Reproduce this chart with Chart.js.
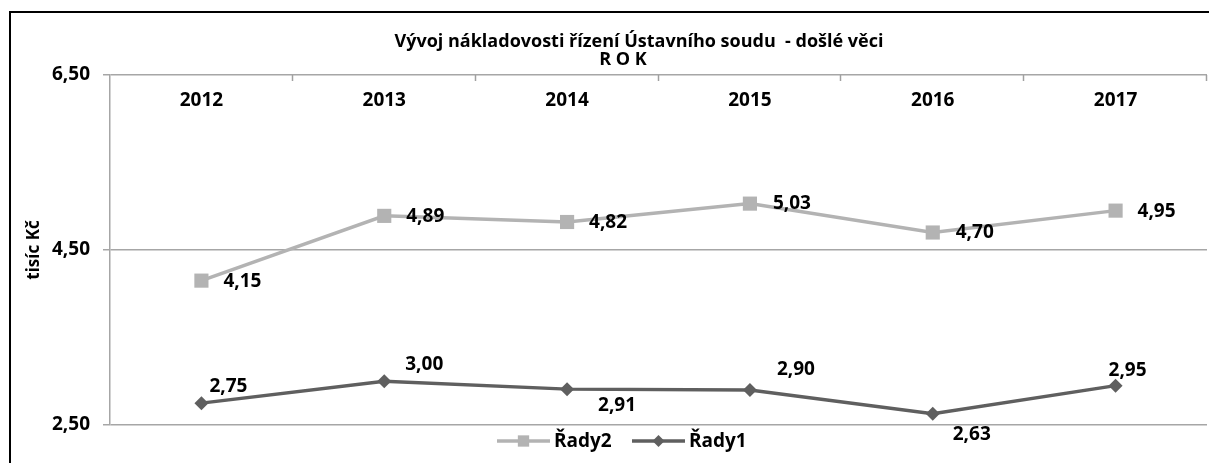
<!DOCTYPE html>
<html>
<head>
<meta charset="utf-8">
<script src="https://cdn.jsdelivr.net/npm/chart.js@4/dist/chart.umd.min.js"></script>
<style>
  body { margin: 0; background: #fff; overflow: hidden; }
  #wrap { position: absolute; left: 0; top: 0; width: 1209px; height: 463px; }
  #frame { position: absolute; left: 9px; top: 11px; width: 1300px; height: 500px;
           border-left: 2px solid #000; border-top: 2px solid #000; pointer-events: none; }
</style>
</head>
<body>
<div id="wrap">
  <canvas id="chart" width="1209" height="463"></canvas>
  <div id="frame"></div>
</div>
<script>
// data
const years = ['2012', '2013', '2014', '2015', '2016', '2017'];
const rady1 = [2.75, 3.00, 2.91, 2.90, 2.63, 2.95];
const rady2 = [4.15, 4.89, 4.82, 5.03, 4.70, 4.95];
const yMin = 2.5, yMax = 6.5, yStep = 2;

const titleLines = ['Vývoj nákladovosti řízení Ústavního soudu  - došlé věci', 'R O K'];
const yTitle = 'tisíc Kč';

// where each value label sits relative to its point
const rady1Offsets = [[27, -17], [40, -17], [50, 16], [46, -20], [39, 21], [12, -15]];
const rady2Offsets = [[41, 1], [41, 1], [41, 1], [42, 0], [42, 0], [41, 1]];

const dark = '#5f5f5f';
const light = '#b3b3b3';
const fontFam = '"Open Sans", sans-serif';
Chart.defaults.font.family = fontFam;
Chart.defaults.color = '#000';

const fmt = v => v.toFixed(2).replace('.', ',');

const extras = {
    id: 'extras',
    afterDraw(chart) {
        const ctx = chart.ctx;
        const xs = chart.scales.x;
        const area = chart.chartArea;
        ctx.save();
        ctx.fillStyle = '#000';
        ctx.textBaseline = 'middle';
        ctx.textAlign = 'center';

        // title
        ctx.font = 'bold 18px ' + fontFam;
        ctx.fillText(titleLines[0], 639, 42);
        ctx.fillText(titleLines[1], 623, 60);

        // category labels under the top edge + small ticks
        ctx.font = 'bold 19px ' + fontFam;
        years.forEach((y, i) => ctx.fillText(y, xs.getPixelForValue(i), area.top + 26));
        const w = (xs.right - xs.left) / years.length;
        ctx.strokeStyle = '#a0a0a0';
        ctx.lineWidth = 1.5;
        for (let k = 1; k <= years.length; k++) {
            const x = Math.round(xs.left + k * w) - 0.5;
            ctx.beginPath();
            ctx.moveTo(x, area.top);
            ctx.lineTo(x, area.top + 6);
            ctx.stroke();
        }

        // y title
        ctx.save();
        ctx.translate(34, (area.top + area.bottom) / 2);
        ctx.rotate(-Math.PI / 2);
        ctx.font = 'bold 17px ' + fontFam;
        ctx.fillText(yTitle, 0, 0);
        ctx.restore();

        // value labels
        ctx.font = 'bold 19px ' + fontFam;
        const sets = [[0, rady1, rady1Offsets], [1, rady2, rady2Offsets]];
        sets.forEach(([di, vals, offs]) => {
            const meta = chart.getDatasetMeta(di);
            meta.data.forEach((pt, i) => {
                ctx.fillText(fmt(vals[i]), pt.x + offs[i][0], pt.y + offs[i][1]);
            });
        });

        // legend
        const ly = 441;
        const items = [
            { label: 'Řady2', color: light, style: 'rect', x0: 497, x1: 550, r: 8 },
            { label: 'Řady1', color: dark, style: 'rectRot', x0: 632, x1: 685, r: 6 }
        ];
        items.forEach(it => {
            ctx.strokeStyle = it.color;
            ctx.lineWidth = 3.5;
            ctx.beginPath();
            ctx.moveTo(it.x0, ly);
            ctx.lineTo(it.x1, ly);
            ctx.stroke();
            ctx.fillStyle = it.color;
            Chart.helpers.drawPoint(ctx, { pointStyle: it.style, radius: it.r, borderWidth: 0 }, (it.x0 + it.x1) / 2, ly);
            ctx.fillStyle = '#000';
            ctx.textAlign = 'left';
            ctx.fillText(it.label, it.x1 + 4, ly + 1);
        });
        ctx.restore();
    }
};

new Chart(document.getElementById('chart'), {
    type: 'line',
    data: {
        labels: years,
        datasets: [{
            label: 'Řady1',
            data: rady1,
            borderColor: dark,
            backgroundColor: dark,
            borderWidth: 3.5,
            pointStyle: 'rectRot',
            pointRadius: 7,
            pointBorderWidth: 0,
            tension: 0,
            clip: false
        }, {
            label: 'Řady2',
            data: rady2,
            borderColor: light,
            backgroundColor: light,
            borderWidth: 3.5,
            pointStyle: 'rect',
            pointRadius: 10,
            pointBorderWidth: 0,
            tension: 0,
            clip: false
        }]
    },
    options: {
        responsive: false,
        devicePixelRatio: 1,
        animation: false,
        layout: { autoPadding: false, padding: { top: 75, right: 2, bottom: 38, left: 0 } },
        plugins: {
            legend: { display: false },
            title: { display: false },
            tooltip: { enabled: false }
        },
        scales: {
            x: { display: false, offset: true },
            y: {
                min: yMin,
                max: yMax,
                afterFit: s => { s.width = 110; },
                ticks: {
                    stepSize: yStep,
                    padding: 13,
                    font: { size: 19, weight: 'bold' },
                    callback: v => fmt(v)
                },
                grid: { color: '#a6a6a6', lineWidth: 1.5, tickLength: 7 },
                border: { color: '#a6a6a6', width: 1.5 }
            }
        }
    },
    plugins: [extras]
});
</script>
</body>
</html>
